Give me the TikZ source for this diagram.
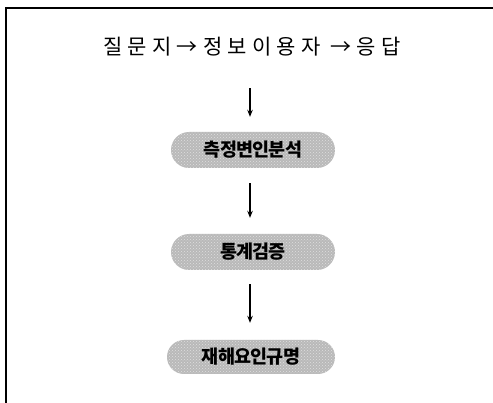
\documentclass[tikz,border=0pt]{standalone}
\usepackage{fontspec}
\setmainfont{Noto Sans CJK KR}
\usetikzlibrary{arrows.meta,patterns}
\begin{document}
\begin{tikzpicture}[x=1pt,y=-1pt,
  stagebox/.style={rounded corners=18pt, inner sep=0pt, minimum height=36pt, minimum width=164pt,
    preaction={fill=gray!55}, pattern=crosshatch dots, pattern color=gray!25,
    font=\fontsize{18.5}{18.5}\selectfont\bfseries\addfontfeature{LetterSpace=-4}, text=black},
  arr/.style={line width=1.1pt, -{Stealth[length=7pt,width=5.5pt]}},
  frame/.style={line width=2pt}]
\useasboundingbox (0,0) rectangle (493,403);
\draw[frame] (6,403) -- (6,8) -- (493,8);
\node (title) at (252,47) {\fontsize{21}{21}\selectfont\addfontfeature{LetterSpace=25}질문지→정보이용자 →응답};
\node[stagebox] (b1) at (253,150) {측정변인분석};
\node[stagebox] (b2) at (253,252) {통계검증};
\node[stagebox, minimum width=168pt, minimum height=34pt, rounded corners=17pt] (b3) at (251,357) {재해요인규명};
\draw[arr] ([xshift=-2pt,yshift=-28pt]title.south) -- ([xshift=-3pt,yshift=15pt]b1.north);
\draw[arr] ([xshift=-3pt,yshift=-15pt]b1.south) -- ([xshift=-3pt,yshift=16pt]b2.north);
\draw[arr] ([xshift=-3pt,yshift=-14pt]b2.south) -- ([xshift=-1pt,yshift=17pt]b3.north);
\end{tikzpicture}
\end{document}
